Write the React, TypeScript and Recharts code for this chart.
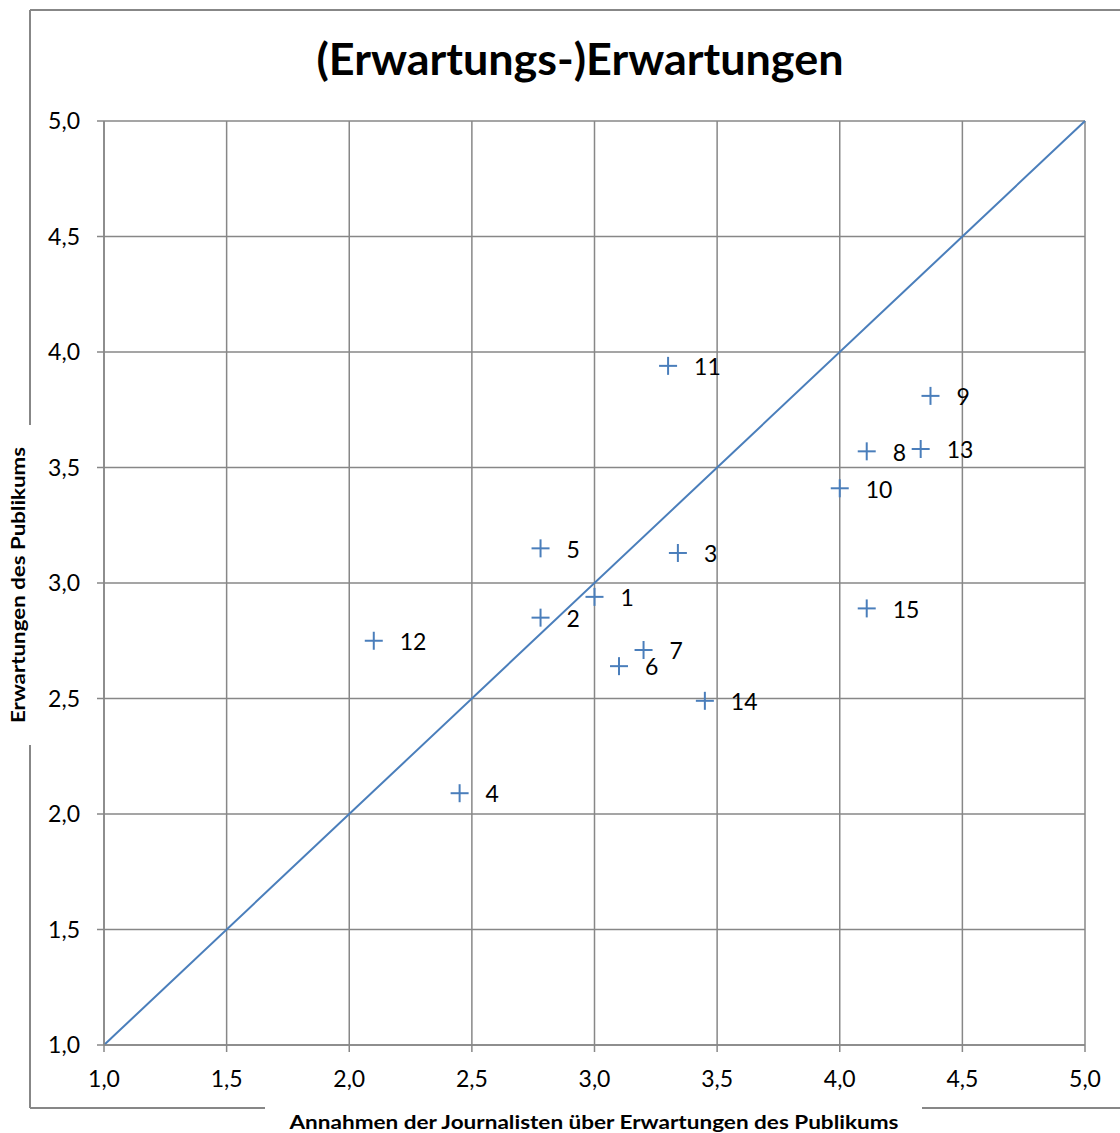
import React from 'react';
import {
  ScatterChart,
  Scatter,
  XAxis,
  YAxis,
  CartesianGrid,
  ReferenceLine,
} from 'recharts';

// point number, journalists' assumption (x), audience expectation (y)
const pointIds = [1, 2, 3, 4, 5, 6, 7, 8, 9, 10, 11, 12, 13, 14, 15];
const journalistValues = [3.0, 2.78, 3.34, 2.45, 2.78, 3.1, 3.2, 4.11, 4.37, 4.0, 3.3, 2.1, 4.33, 3.45, 4.11];
const audienceValues = [2.94, 2.85, 3.13, 2.09, 3.15, 2.64, 2.71, 3.57, 3.81, 3.41, 3.94, 2.75, 3.58, 2.49, 2.89];
const axisTicks = [1, 1.5, 2, 2.5, 3, 3.5, 4, 4.5, 5];
const diagonal = [
  { x: 1, y: 1 },
  { x: 5, y: 5 },
];

const TITLE = '(Erwartungs-)Erwartungen';
const X_TITLE = 'Annahmen der Journalisten über Erwartungen des Publikums';
const Y_TITLE = 'Erwartungen des Publikums';

const GRID = '#878787';
const BLUE = '#4a7ebb';
const FONT = 'Lato, "Open Sans", sans-serif';

const W = 1120;
const H = 1133;

const data = pointIds.map((id, i) => ({
  id,
  x: journalistValues[i],
  y: audienceValues[i],
}));

const fmt = (v: number) => v.toFixed(1).replace('.', ',');

function CrossMarker(props: any) {
  const { cx, cy, payload } = props;
  if (cx == null || cy == null) return null;
  const r = 9;
  return (
    <g>
      <line x1={cx - r} y1={cy} x2={cx + r} y2={cy} stroke={BLUE} strokeWidth={2} />
      <line x1={cx} y1={cy - r} x2={cx} y2={cy + r} stroke={BLUE} strokeWidth={2} />
      <text
        x={cx + 26}
        y={cy + 1}
        dy="0.36em"
        fontFamily={FONT}
        fontSize={23}
        fill="#000"
      >
        {payload.id}
      </text>
    </g>
  );
}

export default function App() {
  return (
    <div style={{ position: 'absolute', left: 0, top: 0, width: W, height: H, background: '#fff' }}>
      <svg
        width={W}
        height={H}
        style={{ position: 'absolute', left: 0, top: 0 }}
      >
        <g stroke={GRID} strokeWidth={2} fill="none">
          <line x1={30} y1={10} x2={W} y2={10} />
          <line x1={30} y1={10} x2={30} y2={425} />
          <line x1={30} y1={745} x2={30} y2={1108} />
          <line x1={30} y1={1108} x2={265} y2={1108} />
          <line x1={922} y1={1108} x2={W} y2={1108} />
        </g>
        <text
          x={580}
          y={75}
          textAnchor="middle"
          fontFamily={FONT}
          fontWeight="bold"
          fontSize={43}
          textLength={527}
          lengthAdjust="spacingAndGlyphs"
          fill="#000"
        >
          {TITLE}
        </text>
        <text
          x={594}
          y={1129}
          textAnchor="middle"
          fontFamily={FONT}
          fontWeight="bold"
          fontSize={18}
          textLength={609}
          lengthAdjust="spacingAndGlyphs"
          fill="#000"
        >
          {X_TITLE}
        </text>
        <text
          x={0}
          y={0}
          transform="translate(25, 585) rotate(-90)"
          textAnchor="middle"
          fontFamily={FONT}
          fontWeight="bold"
          fontSize={18}
          textLength={276}
          lengthAdjust="spacingAndGlyphs"
          fill="#000"
        >
          {Y_TITLE}
        </text>
      </svg>
      <div style={{ position: 'absolute', left: 0, top: 0 }}>
        <ScatterChart
          width={W}
          height={H}
          margin={{ top: 121, right: 35, bottom: 48, left: 44 }}
        >
          <CartesianGrid stroke={GRID} strokeWidth={1.5} />
          <XAxis
            type="number"
            dataKey="x"
            domain={[1, 5]}
            ticks={axisTicks}
            tickFormatter={fmt}
            height={40}
            tickSize={7}
            tickMargin={19}
            stroke={GRID}
            strokeWidth={1.5}
            tick={{ fill: '#000', fontSize: 23, fontFamily: FONT }}
            allowDataOverflow
          />
          <YAxis
            type="number"
            dataKey="y"
            domain={[1, 5]}
            ticks={axisTicks}
            tickFormatter={fmt}
            width={60}
            tickSize={7}
            tickMargin={17}
            stroke={GRID}
            strokeWidth={1.5}
            tick={{ fill: '#000', fontSize: 23, fontFamily: FONT }}
            allowDataOverflow
          />
          <ReferenceLine
            segment={diagonal}
            stroke={BLUE}
            strokeWidth={2}
            ifOverflow="visible"
          />
          <Scatter
            data={data}
            shape={CrossMarker}
            isAnimationActive={false}
          />
        </ScatterChart>
      </div>
    </div>
  );
}
